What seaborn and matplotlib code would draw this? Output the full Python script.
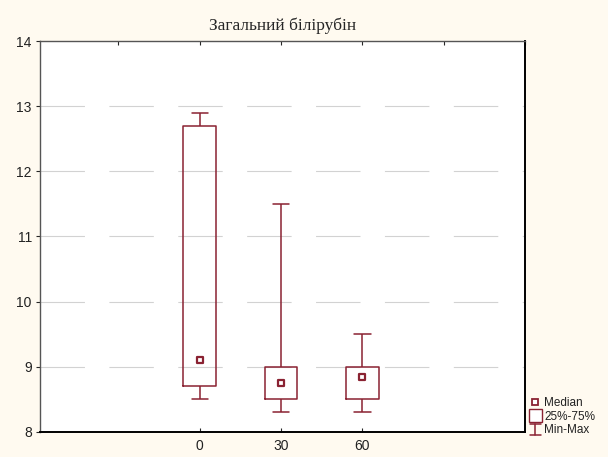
import numpy as np
import pandas as pd
import matplotlib
matplotlib.use("Agg")
import matplotlib.pyplot as plt
from matplotlib.lines import Line2D
from matplotlib.patches import Rectangle
from matplotlib.legend_handler import HandlerBase
import seaborn as sns

# Time points (days) and five-number summaries of total bilirubin
days = ["0", "30", "60"]
minimum = [8.5, 8.3, 8.3]
q1 = [8.7, 8.5, 8.5]
median = [9.1, 8.75, 8.85]
q3 = [12.7, 9.0, 9.0]
maximum = [12.9, 11.5, 9.5]
yticks = [8, 9, 10, 11, 12, 13, 14]

title = "Загальний білірубін"
legend_labels = ["Median", "25%-75%", "Min-Max"]

EDGE = "#8a2232"
BG = "#fffaf0"

# Five values per group reproduce min / q1 / median / q3 / max exactly
rows = []
for d, a, b, c, e, f in zip(days, minimum, q1, median, q3, maximum):
    for v in (a, b, c, e, f):
        rows.append({"day": d, "value": v})
df = pd.DataFrame(rows)

sns.set_style("white")
plt.rcParams["font.family"] = ["Liberation Sans", "DejaVu Sans"]

fig = plt.figure(figsize=(6.08, 4.57), dpi=100, facecolor=BG)
ax = fig.add_axes([0.066, 0.055, 0.798, 0.855])
ax.set_facecolor("white")

sns.boxplot(
    data=df, x="day", y="value", order=days, ax=ax,
    whis=(0, 100), width=0.4, fill=False, color=EDGE, linewidth=1.1,
    medianprops={"visible": False}, showfliers=False,
)
sns.scatterplot(
    x=days, y=median, ax=ax, marker="s", s=22,
    facecolor="white", edgecolor=EDGE, linewidth=1.6, zorder=5, legend=False,
)

ax.set_xlim(-1.96, 4.0)
ax.set_ylim(8, 14)
ax.set_yticks(yticks)
ax.set_yticklabels([str(t) for t in yticks], fontsize=10, color="#222222")
ax.set_xticks(range(len(days)))
ax.set_xticklabels(days, fontsize=10, color="#222222")
ax.set_xlabel("")
ax.set_ylabel("")

# broken horizontal grid segments
for t in yticks[1:-1]:
    ax.axhline(t, color="#d2d2d2", lw=0.8, ls=(0, (40, 22)), zorder=0)

ax.tick_params(axis="y", direction="out", length=3, width=0.8, left=True, pad=3)
ax.tick_params(axis="x", direction="in", length=3, width=0.8, bottom=True, pad=5)
top = ax.secondary_xaxis("top")
top.set_xticks(np.arange(-2, 5, 1))
top.tick_params(direction="in", length=3, width=0.8, labeltop=False)
top.spines["top"].set_visible(False)

for side, lw, col in [("left", 1.0, "#555555"), ("bottom", 1.4, "black"),
                      ("top", 1.0, "#555555"), ("right", 1.4, "black")]:
    ax.spines[side].set_visible(True)
    ax.spines[side].set_linewidth(lw)
    ax.spines[side].set_color(col)

ax.set_title(title, fontsize=12.5, family=["Liberation Serif", "DejaVu Serif"], pad=8)


class MinMaxHandler(HandlerBase):
    def create_artists(self, legend, orig_handle, xd, yd, width, height, fontsize, trans):
        cx = xd + width / 2
        lines = [
            Line2D([cx, cx], [yd - 1, yd + height + 1], color=EDGE, lw=1.1),
            Line2D([cx - 4, cx + 4], [yd + height + 1, yd + height + 1], color=EDGE, lw=1.1),
            Line2D([cx - 4, cx + 4], [yd - 1, yd - 1], color=EDGE, lw=1.1),
        ]
        for ln in lines:
            ln.set_transform(trans)
        return lines


class BoxHandler(HandlerBase):
    def create_artists(self, legend, orig_handle, xd, yd, width, height, fontsize, trans):
        cx = xd + width / 2
        r = Rectangle((cx - 4.5, yd - 1.5), 9, height + 3, facecolor="white",
                      edgecolor=EDGE, lw=1.0, transform=trans)
        return [r]


med_handle = Line2D([], [], marker="s", ls="none", markersize=4,
                    markerfacecolor="white", markeredgecolor=EDGE, markeredgewidth=1.3)
box_handle = Rectangle((0, 0), 1, 1)
mm_handle = Line2D([], [])

fig.legend(
    [med_handle, box_handle, mm_handle], legend_labels,
    handler_map={Rectangle: BoxHandler(), mm_handle: MinMaxHandler()},
    loc="lower left", bbox_to_anchor=(0.872, 0.045), frameon=False,
    fontsize=8.5, handlelength=0.9, handletextpad=0.3, labelspacing=0.15,
    borderpad=0, borderaxespad=0, labelcolor="#222222",
)

fig.savefig("out.png", dpi=100, facecolor=BG)
